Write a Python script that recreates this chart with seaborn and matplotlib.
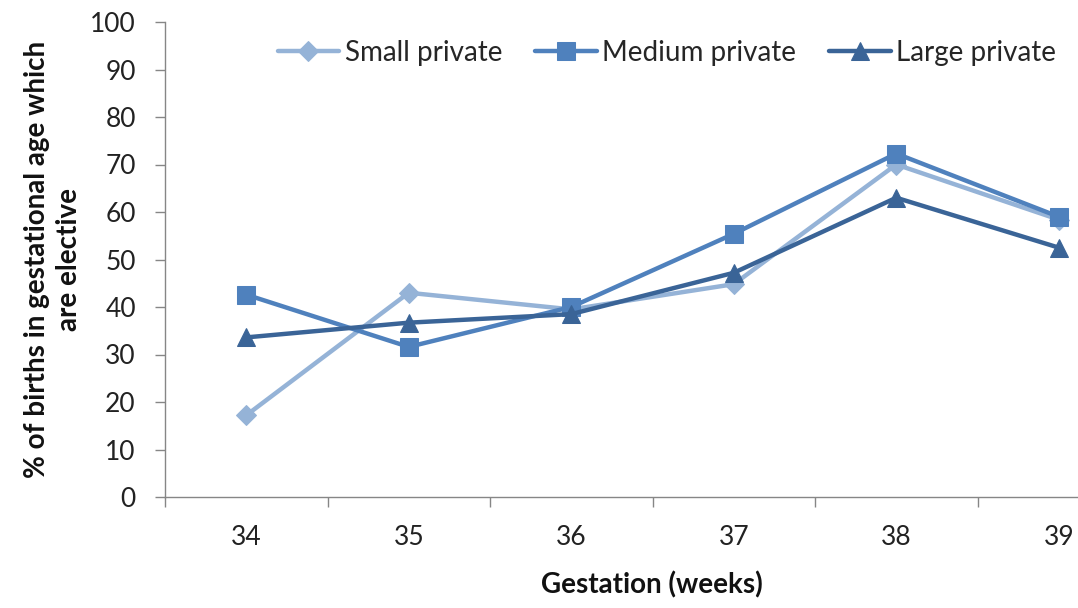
import numpy as np
import pandas as pd
import matplotlib
matplotlib.use("Agg")
import matplotlib.pyplot as plt
import seaborn as sns
from matplotlib.ticker import FixedLocator

# Gestational age categories (weeks)
weeks = ["34", "35", "36", "37", "38", "39"]

# % of births in each gestational week that are elective, by hospital size
small_private = [17.2, 43.0, 39.5, 44.8, 70.0, 58.4]
medium_private = [42.6, 31.6, 40.0, 55.4, 72.3, 59.0]
large_private = [33.6, 36.7, 38.5, 47.2, 63.0, 52.5]

series_names = ["Small private", "Medium private", "Large private"]
series_values = [small_private, medium_private, large_private]

records = []
for name, vals in zip(series_names, series_values):
    for i, (w, v) in enumerate(zip(weeks, vals)):
        records.append({"pos": i, "week": w, "pct": v, "series": name})
df = pd.DataFrame(records)

sns.set_theme(style="white")
plt.rcParams["font.family"] = ["Lato", "DejaVu Sans"]

fig = plt.figure(figsize=(10.78, 6.08), dpi=100)
W, H = 1078, 608
left, right, top, bottom = 165, 165 + 975, 22, 497
ax = fig.add_axes([left / W, 1 - bottom / H, (right - left) / W, (bottom - top) / H])

palette = {"Small private": "#95B3D7", "Medium private": "#4F81BD", "Large private": "#3A6497"}
markers = {"Small private": "D", "Medium private": "s", "Large private": "^"}
sizes = {"Small private": 10, "Medium private": 12.5, "Large private": 13}

for name in series_names:
    sub = df[df["series"] == name]
    sns.lineplot(data=sub, x="pos", y="pct", ax=ax, color=palette[name],
                 marker=markers[name], markersize=sizes[name],
                 markeredgecolor=palette[name], linewidth=3.2, label=name,
                 sort=False)

ax.set_xlim(-0.5, 5.5)
ax.set_ylim(0, 100)
ax.set_yticks(np.arange(0, 101, 10))

# Category labels centred, tick marks on category boundaries
ax.xaxis.set_major_locator(FixedLocator(range(len(weeks))))
ax.set_xticklabels(weeks)
ax.xaxis.set_minor_locator(FixedLocator(np.arange(-0.5, len(weeks), 1.0)))
ax.tick_params(axis="x", which="major", length=0, pad=20, labelsize=19, labelcolor="#222222")
ax.tick_params(axis="x", which="minor", length=7, width=1, color="#868686", direction="out", bottom=True)
ax.tick_params(axis="y", which="major", length=7, width=1, color="#868686", direction="out",
               pad=14, labelsize=19, labelcolor="#222222", left=True)

for s in ["top", "right"]:
    ax.spines[s].set_visible(False)
for s in ["left", "bottom"]:
    ax.spines[s].set_color("#868686")
    ax.spines[s].set_linewidth(1)

ax.set_xlabel("Gestation (weeks)", fontsize=20, fontweight="bold", color="#111111", labelpad=0)
ax.set_ylabel("% of births in gestational age which\nare elective", fontsize=20,
              fontweight="bold", color="#111111", linespacing=1.3)
ax.xaxis.set_label_coords(((652 - left) / (right - left)), -(571 - bottom) / (bottom - top))
ax.yaxis.set_label_coords(-(165 - 82) / (right - left), 0.5)

ax.legend(loc="center", bbox_to_anchor=(667 / W, 1 - 53 / H), bbox_transform=fig.transFigure,
          ncol=3, frameon=False, fontsize=20, handlelength=2.2, handletextpad=0.2,
          columnspacing=1.2)

fig.savefig("out.png", dpi=100)
